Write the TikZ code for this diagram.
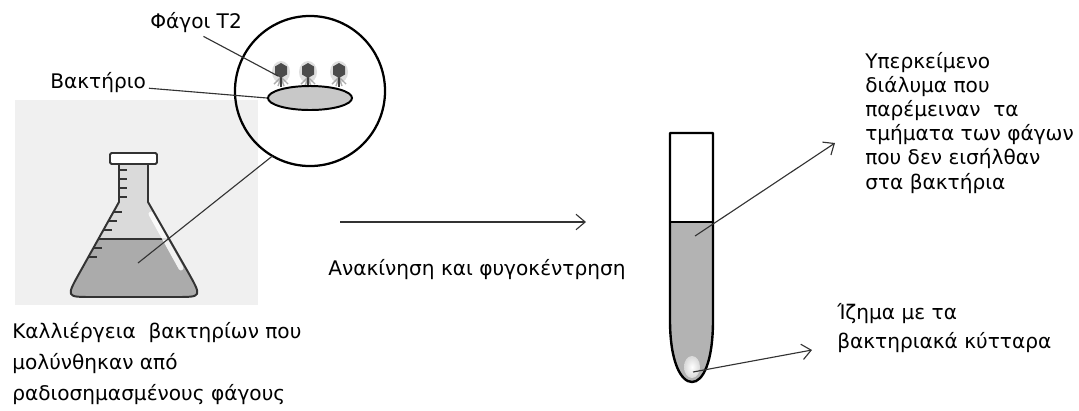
\documentclass[tikz,border=0pt]{standalone}
\usepackage{fontspec}
\setmainfont{DejaVu Sans}
\usetikzlibrary{arrows.meta, shapes.geometric, calc}

\definecolor{panelgrey}{HTML}{F0F0F0}
\definecolor{glassgrey}{HTML}{DADADA}
\definecolor{brothgrey}{HTML}{ABABAB}
\definecolor{cellgrey}{HTML}{C8C8C8}
\definecolor{tubegrey}{HTML}{B3B3B3}
\definecolor{inkgrey}{HTML}{333333}

% outline of the conical flask below the cap
\newcommand{\flaskoutline}{(119,164) -- (119,202) -- (80,272) .. controls (66,297) .. (92,297)
  -- (176,297) .. controls (202,297) .. (188,272) -- (148,202) -- (148,164)}

\begin{document}
\begin{tikzpicture}[x=0.025cm, y=-0.025cm,
  lbl/.style={font=\fontsize{14.3}{17}\selectfont, align=left, inner sep=0pt, anchor=base west},
  ptr/.style={draw=inkgrey, line width=0.8pt},
  arr/.style={ptr, -{Straight Barb[length=6.5pt, width=11pt]}},
  flaskline/.style={draw=inkgrey, line width=1.4pt},
  tubeline/.style={draw=black, line width=1.7pt},
  phage/.style={fill=black!70},
]
\useasboundingbox (0,0) rectangle (1079,410);

% culture flask
\fill[panelgrey] (15,100) rectangle (258,305);
\fill[glassgrey] \flaskoutline -- cycle;
\begin{scope}
  \clip \flaskoutline -- cycle;
  \fill[brothgrey] (50,239) rectangle (220,305);
  \draw[flaskline] (50,239) -- (220,239);
\end{scope}
\draw[white, line width=3.5pt, line cap=round, opacity=0.85] (151,214) -- (181,268);
\draw[flaskline, line join=round] \flaskoutline;
\draw[flaskline, fill=white, rounded corners=1pt] (110,153) rectangle (157,164);
\foreach \ty in {170,179,188,197}
  \draw[flaskline] (119,\ty) -- ++(8,0);
\foreach \ty in {212,221,230,248,257}
  \draw[flaskline] ({119-0.557*(\ty-202)},\ty) -- ++(9,0);
\coordinate (sample) at (138,263);

% magnified bacterium with phages
\node[circle, draw, line width=1.6pt, minimum size=3.75cm, inner sep=0pt, outer sep=0pt] (zoom) at (310,91) {};
\foreach \px [count=\i] in {281,308,339} {
  \fill[black!25, opacity=0.5] (\px,72) ellipse [x radius=9, y radius=11];
  \draw[black!40, line width=1pt, opacity=0.8] (\px,77) -- ++(-7,7) (\px,77) -- ++(7,7)
    (\px,78) -- ++(-3,8) (\px,78) -- ++(3,8);
  \draw[black!75, line width=1.1pt] (\px,76) -- (\px,87);
  \fill[phage] (\px,63) -- ++(6,3.5) -- ++(0,8) -- ++(-6,3.5) -- ++(-6,-3.5) -- ++(0,-8) -- cycle;
  \coordinate (phage\i) at (\px-3,76);
}
\node[ellipse, draw, line width=1.4pt, fill=cellgrey, minimum width=2.1cm, minimum height=0.6cm, inner sep=0pt] (bact) at (310,98) {};

\node[lbl] (phagelbl) at (150,28) {Φάγοι T2};
\node[lbl] (bactlbl) at (50,88) {Βακτήριο};
\draw[ptr, shorten <=6pt] (phagelbl.south) -- (phage1);
\draw[ptr, shorten <=2pt] (bactlbl.base east) -- (bact.west);
\draw[ptr] (sample) -- (zoom.240);

\node[lbl, font=\fontsize{14.3}{21.7}\selectfont] (culture) at (12,400)
  {Καλλιέργεια\ \ βακτηρίων που\\ μολύνθηκαν από\\ ραδιοσημασμένους φάγους};

% shaking and centrifugation
\coordinate (spinfrom) at (340,222);
\coordinate (spinto) at (586,222);
\draw[arr] (spinfrom) -- (spinto);
\node[lbl] (spinlbl) at (328,275) {Ανακίνηση και φυγοκέντρηση};

% centrifuge tube
\begin{scope}
  \clip (670,222) -- (670,320) .. controls (670,362) and (681,382) .. (692,382)
    .. controls (703,382) and (713,362) .. (713,320) -- (713,222) -- cycle;
  \fill[tubegrey] (660,222) rectangle (720,390);
  \shade[inner color=white, outer color=black!15] (692,367) ellipse [x radius=8, y radius=11];
\end{scope}
\draw[tubeline, line join=round] (670,133) -- (670,320) .. controls (670,362) and (681,382) .. (692,382)
  .. controls (703,382) and (713,362) .. (713,320) -- (713,133) -- cycle;
\draw[tubeline] (670,222) -- (713,222);
\coordinate (supernatant) at (695,236);
\coordinate (pellet) at (693,372);
\coordinate (supertip) at (835,143);
\coordinate (pellettip) at (812,350);
\draw[arr] (supernatant) -- (supertip);
\draw[arr] (pellet) -- (pellettip);

\node[lbl, font=\fontsize{14.3}{17.1}\selectfont] (superlbl) at (865,189)
  {Υπερκείμενο\\ διάλυμα που\\ παρέμειναν\ \ τα\\ τμήματα των φάγων\\ που δεν εισήλθαν\\ στα βακτήρια};
\node[lbl, font=\fontsize{14.3}{20.6}\selectfont] (pelletlbl) at (837,348)
  {Ίζημα με τα\\ βακτηριακά κύτταρα};
\end{tikzpicture}
\end{document}
